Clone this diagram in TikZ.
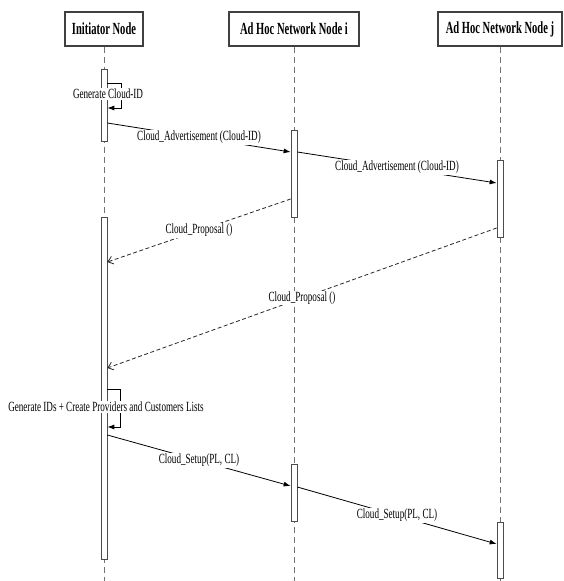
\documentclass[tikz,border=0pt]{standalone}
\usepackage{fontspec}
\setmainfont{Liberation Serif}
\newfontfamily\narrowfont[FakeStretch=0.65]{Liberation Serif}
\newfontfamily\headfont[FakeStretch=0.62]{Liberation Serif}
\usetikzlibrary{arrows.meta}

\begin{document}
\begin{tikzpicture}[x=1pt,y=-1pt,
    head/.style={draw=black!75,line width=1.1pt,minimum height=34pt,inner sep=0pt,
      font=\headfont\fontsize{17}{19}\selectfont\bfseries},
    lifeline/.style={draw=black!55,dash pattern=on 6pt off 4pt,line width=0.6pt},
    bar/.style={draw=black!70,fill=white,minimum width=6pt,inner sep=0pt,line width=0.7pt},
    msg/.style={-{Latex[length=7pt,width=5pt]},line width=0.8pt},
    reply/.style={-{Straight Barb[length=5pt,width=8pt]},draw=black!85,
      dash pattern=on 4pt off 2.5pt,line width=0.8pt},
    lbl/.style={fill=white,inner sep=1pt,font=\narrowfont\fontsize{14}{16}\selectfont}]
  \useasboundingbox (0,0) rectangle (564,581);

  % participants
  \node[head,minimum width=78pt] (init) at (104,29) {Initiator Node};
  \node[head,minimum width=130pt] (nodei) at (294,29) {Ad Hoc Network Node i};
  \node[head,minimum width=124pt] (nodej) at (500,29) {Ad Hoc Network Node j};
  \foreach \p in {init,nodei,nodej}
    \draw[lifeline] (\p.south) -- (\p.south |- 0,581);

  % activations
  \node[bar,minimum height=72pt] (init1) at (init |- 0,105) {};
  \node[bar,minimum height=342pt] (init2) at (init |- 0,388) {};
  \node[bar,minimum height=87pt] (nodei1) at (nodei |- 0,173.5) {};
  \node[bar,minimum height=57pt] (nodei2) at (nodei |- 0,492.5) {};
  \node[bar,minimum height=77pt] (nodej1) at (nodej |- 0,198.5) {};
  \node[bar,minimum height=56pt] (nodej2) at (nodej |- 0,550) {};

  % self calls
  \draw[msg] (init1.east |- 0,83) -| (121,108) -- (init1.east |- 0,108);
  \node[lbl] (gencid) at (108,94) {Generate Cloud-ID};
  \draw[msg] (init2.east |- 0,389) -| (120,427) -- (init2.east |- 0,427);
  \node[lbl] (genlists) at (106,407) {Generate IDs + Create Providers and Customers Lists};

  % messages
  \draw[msg] (init1.east |- 0,123) -- node[lbl] {Cloud\_Advertisement (Cloud-ID)} (nodei1.west |- 0,152);
  \draw[msg] (nodei1.east |- 0,152) -- node[lbl] {Cloud\_Advertisement (Cloud-ID)} (nodej1.west |- 0,183);
  \draw[reply] (nodei1.west |- 0,199) -- node[lbl] {Cloud\_Proposal ()} (init2.east |- 0,262);
  \draw[reply] (nodej1.west |- 0,228) -- node[lbl] {Cloud\_Proposal ()} (init2.east |- 0,368);
  \draw[msg] (init2.east |- 0,435) -- node[lbl] {Cloud\_Setup(PL, CL)} (nodei2.west |- 0,486);
  \draw[msg] (nodei2.east |- 0,487) -- node[lbl] {Cloud\_Setup(PL, CL)} (nodej2.west |- 0,544);
\end{tikzpicture}
\end{document}
